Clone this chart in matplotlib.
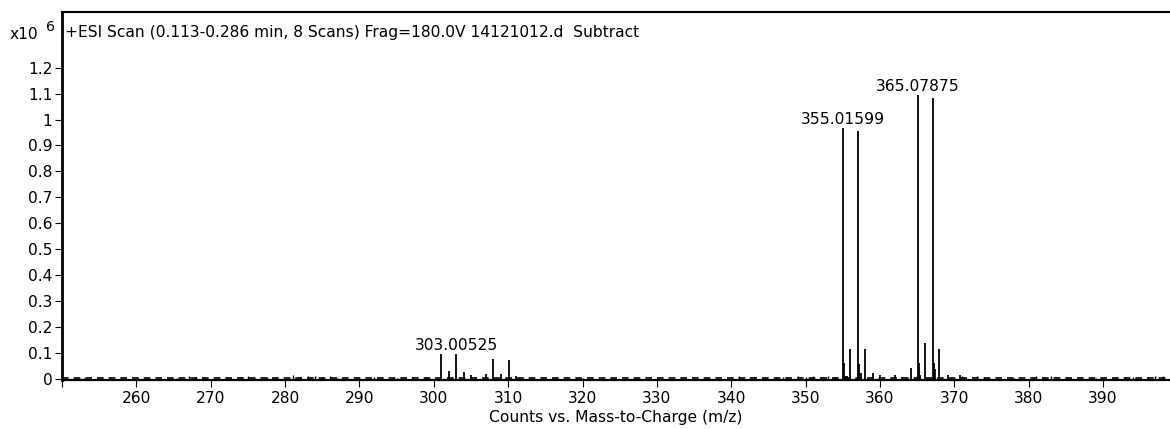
import matplotlib
matplotlib.use("Agg")
import matplotlib.pyplot as plt
import numpy as np

plt.rcParams['font.family'] = ['DejaVu Sans']

# spectrum values, intensity in units of 1e6 counts
major_mz = [355.01599, 357.01400, 365.07875, 367.07600]
major_int = [0.966, 0.955, 1.094, 1.082]

minor_mz = [301.0, 302.0, 303.00525, 304.0, 305.0, 307.0, 308.0, 309.0, 310.1, 311.0,
            355.2, 355.4, 355.6, 356.0, 357.2, 357.4, 358.0, 359.1, 360.0, 362.0,
            363.0, 364.2, 365.2, 365.4, 366.0, 367.2, 367.35, 368.0, 369.1, 370.8]
minor_int = [0.093, 0.028, 0.095, 0.027, 0.015, 0.016, 0.076, 0.016, 0.071, 0.008,
             0.060, 0.010, 0.010, 0.113, 0.055, 0.020, 0.113, 0.022, 0.012, 0.012,
             0.007, 0.040, 0.060, 0.015, 0.138, 0.060, 0.035, 0.113, 0.012, 0.012]

noise_mz = [253.0, 256.5, 260.2, 263.0, 265.5, 267.1, 268.0, 269.1, 271.0, 274.1,
            275.0, 276.0, 277.5, 281.0, 282.0, 283.1, 284.0, 285.0, 286.1, 287.0,
            290.0, 292.0, 295.0, 297.0, 299.0, 300.1, 312.0, 315.0, 320.0, 330.0,
            335.0, 341.0, 342.5, 343.0, 344.5, 346.0, 347.0, 349.0, 350.0, 351.0,
            352.0, 353.0, 354.0, 371.0, 371.3, 373.0, 374.0, 378.0, 381.0, 382.0,
            383.0, 387.0, 389.0, 393.0, 394.0, 396.0, 397.0, 398.0]
noise_int = [0.004, 0.004, 0.004, 0.004, 0.004, 0.008, 0.006, 0.005, 0.004, 0.006,
             0.008, 0.004, 0.005, 0.013, 0.007, 0.010, 0.008, 0.006, 0.008, 0.004,
             0.004, 0.005, 0.004, 0.006, 0.007, 0.005, 0.004, 0.003, 0.003, 0.003,
             0.003, 0.008, 0.006, 0.007, 0.005, 0.007, 0.007, 0.011, 0.006, 0.011,
             0.005, 0.008, 0.006, 0.010, 0.006, 0.011, 0.007, 0.004, 0.011, 0.007,
             0.011, 0.004, 0.004, 0.007, 0.006, 0.007, 0.008, 0.008]
noise_floor = 0.002

label_mz = [303.00525, 355.01599, 365.07875]
label_int = [0.095, 0.966, 1.094]

y_ticks = [0, 0.1, 0.2, 0.3, 0.4, 0.5, 0.6, 0.7, 0.8, 0.9, 1, 1.1, 1.2]
y_labels = ['0', '0.1', '0.2', '0.3', '0.4', '0.5', '0.6', '0.7', '0.8', '0.9', '1', '1.1', '1.2']
x_ticks = [250, 260, 270, 280, 290, 300, 310, 320, 330, 340, 350, 360, 370, 380, 390]
x_labels = [''] + [str(t) for t in x_ticks[1:]]

fs = 11.2

fig = plt.figure(figsize=(11.7, 4.29), dpi=100)
ax = fig.add_axes([0.053, 0.114, 0.947, 0.858])

ax.axhline(noise_floor, color='black', lw=1.2, dashes=(4, 3))
ax.vlines(noise_mz, 0, noise_int, color='black', lw=1.0)
ax.vlines(minor_mz, 0, minor_int, color='black', lw=1.3)
ax.vlines(major_mz, 0, major_int, color='black', lw=1.3)

for mz, h in zip(label_mz, label_int):
    ax.text(mz, h + 0.004, f"{mz:.5f}", ha='center', va='bottom', fontsize=fs)

ax.set_xlim(250, 399)
ax.set_ylim(-0.006, 1.415)
ax.set_xticks(x_ticks, labels=x_labels)
ax.set_yticks(y_ticks, labels=y_labels)
ax.tick_params(axis='both', labelsize=fs, length=5, width=0.8, color='black', pad=2)
ax.tick_params(axis='x', pad=3)

ax.spines['right'].set_visible(False)
ax.spines['left'].set_linewidth(2.0)
ax.spines['top'].set_linewidth(1.5)
ax.spines['bottom'].set_linewidth(1.6)

ax.set_xlabel('Counts vs. Mass-to-Charge (m/z)', fontsize=fs, labelpad=3)

ax.text(0.003, 0.945, '+ESI Scan (0.113-0.286 min, 8 Scans) Frag=180.0V 14121012.d  Subtract',
        transform=ax.transAxes, ha='left', va='center', fontsize=fs)
fig.text(0.0085, 0.919, 'x10', ha='left', va='center', fontsize=fs)
fig.text(0.039, 0.936, '6', ha='left', va='center', fontsize=fs - 1)

plt.savefig('out.png', dpi=100)
